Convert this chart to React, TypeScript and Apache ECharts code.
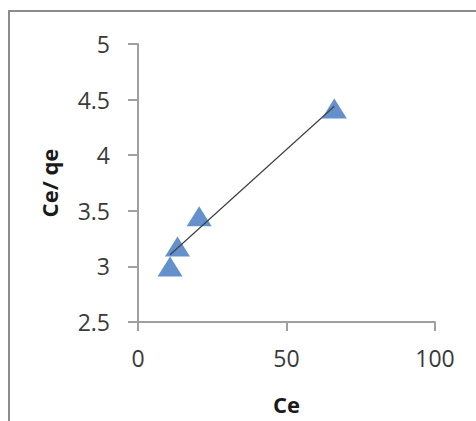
import React, { useEffect, useRef } from "react";
import * as echarts from "echarts";

const ceValues = [10.8, 13.3, 20.6, 66.1];
const ceQeValues = [3.0, 3.18, 3.45, 4.42];
const xTicks = [0, 50, 100];
const yTicks = [2.5, 3, 3.5, 4, 4.5, 5];

function linearFit(xs: number[], ys: number[]) {
  const n = xs.length;
  const mx = xs.reduce((a, b) => a + b, 0) / n;
  const my = ys.reduce((a, b) => a + b, 0) / n;
  let sxy = 0;
  let sxx = 0;
  for (let i = 0; i < n; i++) {
    sxy += (xs[i] - mx) * (ys[i] - my);
    sxx += (xs[i] - mx) * (xs[i] - mx);
  }
  const slope = sxy / sxx;
  const intercept = my - slope * mx;
  return { slope, intercept };
}

export default function App() {
  const ref = useRef<HTMLDivElement>(null);
  useEffect(() => {
    if (!ref.current) return;
    const chart = echarts.init(ref.current, undefined, { renderer: "svg" });
    const { slope, intercept } = linearFit(ceValues, ceQeValues);
    const xMin = Math.min(...ceValues);
    const xMax = Math.max(...ceValues);
    const trend = [
      [xMin, intercept + slope * xMin],
      [xMax, intercept + slope * xMax],
    ];
    const font = "Open Sans";
    const axisColor = "#a0a0a0";
    chart.setOption({
      animation: false,
      backgroundColor: "#ffffff",
      graphic: [
        {
          type: "rect",
          shape: { x: 9, y: 11, width: 520, height: 460 },
          style: { fill: "none", stroke: "#8c8c8c", lineWidth: 2 },
          silent: true,
        },
      ],
      grid: { left: 138, top: 44, right: 41, bottom: 99 },
      xAxis: {
        type: "value",
        min: xTicks[0],
        max: xTicks[xTicks.length - 1],
        interval: 50,
        name: "Ce",
        nameLocation: "middle",
        nameGap: 71,
        nameTextStyle: { fontFamily: font, fontWeight: "bold", fontSize: 22, color: "#1a1a1a" },
        axisLine: { show: true, onZero: false, lineStyle: { color: axisColor, width: 2 } },
        axisTick: { show: true, length: 9, lineStyle: { color: axisColor, width: 2 } },
        axisLabel: { margin: 24, fontFamily: font, fontSize: 23, color: "#3a3a3a" },
        splitLine: { show: false },
      },
      yAxis: {
        type: "value",
        min: yTicks[0],
        max: yTicks[yTicks.length - 1],
        interval: 0.5,
        name: "Ce/ qe",
        nameLocation: "middle",
        nameGap: 78,
        nameTextStyle: { fontFamily: font, fontWeight: "bold", fontSize: 22, color: "#1a1a1a" },
        axisLine: { show: true, onZero: false, lineStyle: { color: axisColor, width: 2 } },
        axisTick: { show: true, length: 10, lineStyle: { color: axisColor, width: 2 } },
        axisLabel: { margin: 28, fontFamily: font, fontSize: 23, color: "#3a3a3a" },
        splitLine: { show: false },
      },
      series: [
        {
          type: "scatter",
          data: ceValues.map((x, i) => [x, ceQeValues[i]]),
          symbol: "triangle",
          symbolSize: [25, 20],
          itemStyle: { color: "#3d74bf" },
          z: 2,
        },
        {
          type: "line",
          data: trend,
          showSymbol: false,
          symbol: "none",
          lineStyle: { color: "#404040", width: 1.2 },
          z: 3,
        },
      ],
    });
    return () => chart.dispose();
  }, []);
  return (
    <div
      ref={ref}
      style={{ position: "fixed", left: 0, top: 0, width: 476, height: 421 }}
    />
  );
}
